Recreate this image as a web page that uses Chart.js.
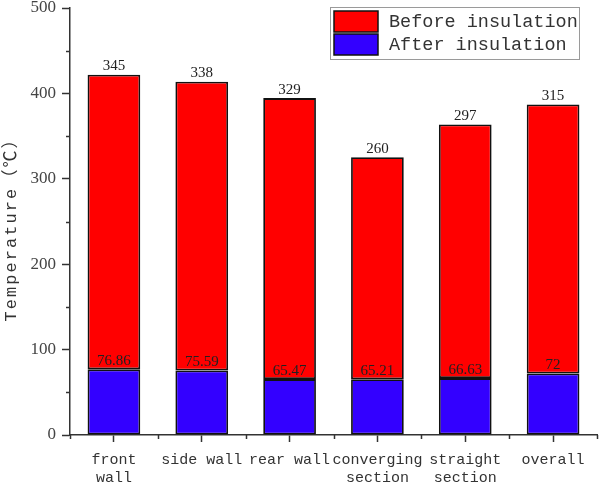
<!DOCTYPE html>
<html>
<head>
<meta charset="utf-8">
<script src="https://cdn.jsdelivr.net/npm/chart.js@4.4.1/dist/chart.umd.min.js"></script>
<style>
  html, body { margin: 0; padding: 0; background: #fff; }
  #wrap { width: 600px; height: 491px; }
</style>
</head>
<body>
<div id="wrap"><canvas id="c" width="600" height="491"></canvas></div>
<script>
// Furnace wall surface temperatures, before and after insulation
const categories = [['front', 'wall'], 'side wall', 'rear wall', ['converging', 'section'], ['straight', 'section'], 'overall'];
const afterInsulation = [76.86, 75.59, 65.47, 65.21, 66.63, 72];
const beforeInsulation = [345, 338, 329, 260, 297, 315];
const yTicks = [0, 100, 200, 300, 400, 500];
const yTitle = 'Temperature（℃）';

const AXIS = '#333';
const SERIF = '"Liberation Serif", "Times New Roman", serif';
const MONO = '"Liberation Mono", "DejaVu Sans Mono", "Noto Sans CJK SC", monospace';

// minor ticks, value labels, y title and the boxed legend
const extras = {
  id: 'extras',
  afterDatasetsDraw(chart) {
    const ctx = chart.ctx;
    ctx.save();
    ctx.fillStyle = '#222';
    ctx.font = '15px ' + SERIF;
    ctx.textAlign = 'center';
    ctx.textBaseline = 'bottom';
    chart.data.datasets.forEach((ds, i) => {
      const meta = chart.getDatasetMeta(i);
      meta.data.forEach((bar, j) => {
        ctx.fillText(String(ds.data[j]), bar.x, bar.y - 1);
      });
    });
    ctx.restore();
  },
  afterDraw(chart) {
    const ctx = chart.ctx;
    const y = chart.scales.y;
    const area = chart.chartArea;
    ctx.save();
    ctx.strokeStyle = AXIS;
    ctx.lineWidth = 1.5;
    // y minor ticks
    for (let i = 0; i < yTicks.length - 1; i++) {
      const py = Math.round(y.getPixelForValue((yTicks[i] + yTicks[i + 1]) / 2)) + 0.5;
      ctx.beginPath();
      ctx.moveTo(area.left - 4, py);
      ctx.lineTo(area.left, py);
      ctx.stroke();
    }
    // x minor ticks at category boundaries
    const n = categories.length;
    for (let i = 0; i <= n; i++) {
      const px = Math.round(area.left + (area.right - area.left) * i / n) + 0.5;
      ctx.beginPath();
      ctx.moveTo(px, area.bottom);
      ctx.lineTo(px, area.bottom + 4);
      ctx.stroke();
    }
    // y axis title, rotated, spread out character by character
    ctx.save();
    ctx.translate(11, (area.top + area.bottom) / 2 + 5);
    ctx.rotate(-Math.PI / 2);
    ctx.fillStyle = '#333';
    ctx.font = '17px ' + MONO;
    ctx.textAlign = 'left';
    ctx.textBaseline = 'middle';
    const chars = Array.from(yTitle);
    const widths = chars.map(ch => ctx.measureText(ch).width);
    const span = 190;
    const gap = (span - widths.reduce((a, b) => a + b, 0)) / (chars.length - 1);
    let cx = -span / 2;
    chars.forEach((ch, k) => {
      ctx.fillText(ch, cx, 0);
      cx += widths[k] + gap;
    });
    ctx.restore();
    // legend
    const lx = 330.5, ly = 7.5, lw = 249, lh = 52;
    ctx.strokeStyle = '#9a9a9a';
    ctx.lineWidth = 1;
    ctx.fillStyle = '#fff';
    ctx.fillRect(lx, ly, lw, lh);
    ctx.strokeRect(lx, ly, lw, lh);
    const rows = [chart.data.datasets[1], chart.data.datasets[0]];
    rows.forEach((ds, i) => {
      const sy = 11 + i * 23;
      ctx.fillStyle = ds.backgroundColor;
      ctx.fillRect(334, sy, 44, 21);
      ctx.strokeStyle = '#111';
      ctx.lineWidth = 1.5;
      ctx.strokeRect(334, sy, 44, 21);
      ctx.fillStyle = '#333';
      ctx.font = '18.5px ' + MONO;
      ctx.textAlign = 'left';
      ctx.textBaseline = 'middle';
      ctx.fillText(ds.label, 389, sy + 11);
    });
    ctx.restore();
  }
};

new Chart(document.getElementById('c'), {
  type: 'bar',
  data: {
    labels: categories,
    datasets: [
      {
        label: 'After insulation',
        data: afterInsulation,
        backgroundColor: '#3300ff',
        borderColor: '#111',
        borderWidth: 1.8,
        borderSkipped: false,
        barPercentage: 0.6,
        categoryPercentage: 1
      },
      {
        label: 'Before insulation',
        data: beforeInsulation,
        backgroundColor: '#ff0000',
        borderColor: '#111',
        borderWidth: 1.8,
        borderSkipped: false,
        barPercentage: 0.6,
        categoryPercentage: 1
      }
    ]
  },
  options: {
    responsive: false,
    animation: false,
    layout: { padding: { top: 8, right: 3, left: 0, bottom: 0 } },
    plugins: { legend: { display: false }, tooltip: { enabled: false } },
    scales: {
      x: {
        stacked: true,
        offset: true,
        grid: { drawOnChartArea: false, offset: false, tickLength: 7, tickColor: AXIS, tickWidth: 1.5 },
        border: { display: true, color: AXIS, width: 1.5 },
        ticks: { color: '#333', font: { family: MONO, size: 15 }, padding: 9, maxRotation: 0, autoSkip: false },
        afterFit(s) { s.height = 56; s.paddingLeft = 0; s.paddingRight = 0; }
      },
      y: {
        stacked: true,
        min: 0,
        max: 500,
        grid: { drawOnChartArea: false, tickLength: 8, tickColor: AXIS, tickWidth: 1.5 },
        border: { display: true, color: AXIS, width: 1.5 },
        ticks: { stepSize: 100, color: '#444', font: { family: SERIF, size: 17 }, padding: 6 },
        afterFit(s) { s.width = 70; s.paddingTop = 0; s.paddingBottom = 0; }
      }
    }
  },
  plugins: [extras]
});
</script>
</body>
</html>
